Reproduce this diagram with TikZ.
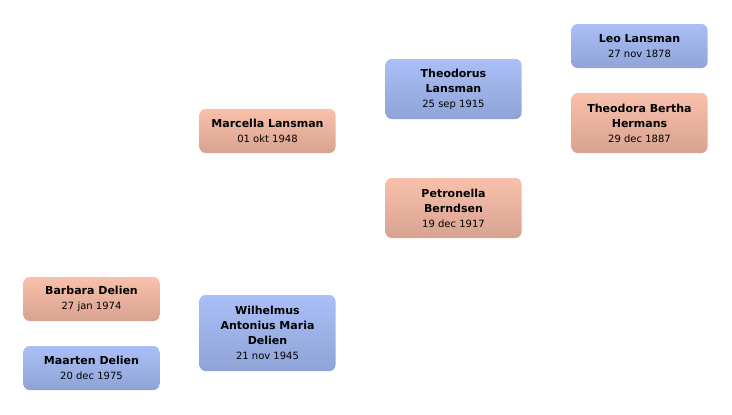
\documentclass[tikz,border=0pt]{standalone}
\usepackage{fontspec}
\setmainfont{DejaVu Sans}
\definecolor{mantop}{HTML}{A9BFF7}
\definecolor{manbot}{HTML}{8FA3D6}
\definecolor{vrouwtop}{HTML}{F9C1AB}
\definecolor{vrouwbot}{HTML}{D8A291}
\tikzset{
  persoon/.style={rounded corners=6pt,minimum width=136pt,inner sep=0pt,align=center,
    font=\fontsize{11}{15}\selectfont\bfseries},
  man/.style={persoon,top color=mantop,bottom color=manbot},
  vrouw/.style={persoon,top color=vrouwtop,bottom color=vrouwbot}}
\newcommand{\datum}[1]{{\mdseries\fontsize{10}{13}\selectfont #1}}
\begin{document}
\begin{tikzpicture}[x=1pt,y=-1pt]
            \useasboundingbox (0,0) rectangle (732,415);
            % generatie 1
            \node[man,minimum height=44pt] (leo) at (639.5,46) {Leo Lansman\\\datum{27 nov 1878}};
            \node[vrouw,minimum height=60pt] (theodora) at (639.5,123) {Theodora Bertha\\Hermans\\\datum{29 dec 1887}};
            % generatie 2
            \node[man,minimum height=60pt] (theodorus) at (453.5,89) {Theodorus\\Lansman\\\datum{25 sep 1915}};
            \node[vrouw,minimum height=60pt] (petronella) at (453.5,208) {Petronella\\Berndsen\\\datum{19 dec 1917}};
            % generatie 3
            \node[vrouw,minimum height=44pt] (marcella) at (267.5,131) {Marcella Lansman\\\datum{01 okt 1948}};
            \node[man,minimum height=76pt] (wilhelmus) at (267.5,333) {Wilhelmus\\Antonius Maria\\Delien\\\datum{21 nov 1945}};
            % kinderen
            \node[vrouw,minimum height=44pt] (barbara) at (91.5,299) {Barbara Delien\\\datum{27 jan 1974}};
            \node[man,minimum height=44pt] (maarten) at (91.5,368) {Maarten Delien\\\datum{20 dec 1975}};
        \end{tikzpicture}
\end{document}
